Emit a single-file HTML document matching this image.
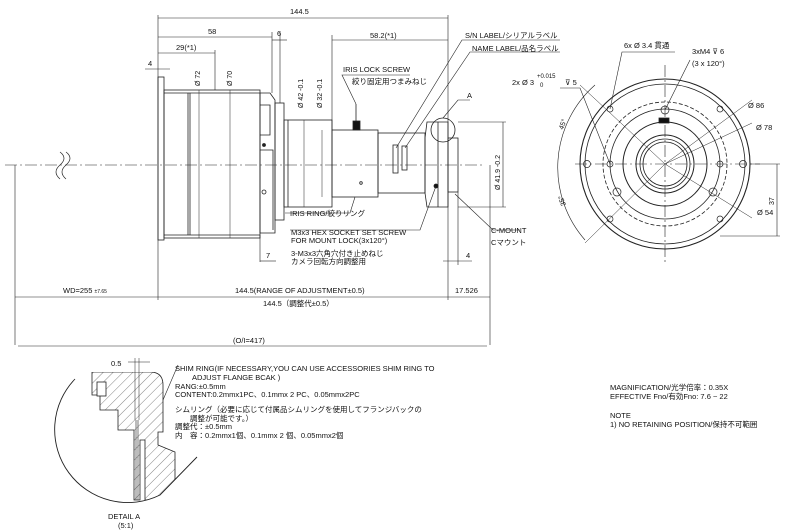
<!DOCTYPE html>
<html><head><meta charset="utf-8"><style>
html,body{margin:0;padding:0;background:#fff;width:800px;height:531px;overflow:hidden}
svg{display:block}
text{font-family:"Liberation Sans","Noto Sans CJK JP",sans-serif;fill:#111}
</style></head><body>
<svg width="800" height="531" viewBox="0 0 800 531" xmlns="http://www.w3.org/2000/svg">
<defs>
<pattern id="h" width="7" height="7" patternUnits="userSpaceOnUse" patternTransform="rotate(45)">
<line x1="0" y1="0" x2="0" y2="7" stroke="#333" stroke-width="0.6"/>
</pattern>
<clipPath id="dc"><path d="M75 379 A73 73 0 0 0 160 495 L197 457 L178 372 L75 372 Z"/></clipPath>
</defs>
<g stroke="#222" stroke-width="0.8" fill="none">
<line x1="5" y1="165" x2="485" y2="165" stroke-dasharray="12,3,2,3" stroke-width="0.6"/>
<path d="M60 152 q8 6 0 13 q-8 7 0 14 M66 152 q8 6 0 13 q-8 7 0 14" stroke-width="0.7"/>
<rect x="158" y="77" width="6" height="163"/>
<rect x="164" y="90" width="96" height="148"/>
<line x1="188" y1="93" x2="188" y2="235"/>
<line x1="190" y1="93" x2="190" y2="235"/>
<line x1="164" y1="93" x2="260" y2="93"/>
<line x1="164" y1="235" x2="260" y2="235"/>
<path d="M260 93 H270 L275 100 V233 H260 Z"/>
<path d="M260 105 H270 V135 H260 M260 150 H273 V230"/>
<circle cx="264" cy="145" r="1.5" fill="#222"/>
<circle cx="264" cy="192" r="2"/>
<rect x="275" y="103" width="9" height="117"/>
<rect x="284" y="120" width="48" height="87"/>
<line x1="288" y1="120" x2="288" y2="207"/>
<rect x="332" y="130" width="46" height="67"/>
<rect x="353" y="121" width="7" height="9" fill="#111"/>
<line x1="356" y1="104" x2="356" y2="121"/>
<circle cx="361" cy="183" r="1.3"/>
<rect x="378" y="133" width="47" height="60"/>
<rect x="393" y="145" width="5" height="28"/>
<rect x="402" y="146" width="5" height="24"/>
<path d="M425 138 L427 122 H448 V207 H427 L425 193 Z"/>
<line x1="438" y1="122" x2="438" y2="207"/>
<circle cx="436" cy="186" r="2" fill="#111"/>
<rect x="448" y="138" width="10" height="54"/>
<circle cx="443" cy="130" r="12"/>
<line x1="158" y1="15" x2="158" y2="300" stroke-width="0.6"/>
<line x1="448" y1="15" x2="448" y2="300" stroke-width="0.6"/>
<line x1="490" y1="165" x2="490" y2="300" stroke-width="0.6"/>
<line x1="15" y1="165" x2="15" y2="345" stroke-width="0.6"/>
<line x1="490" y1="300" x2="490" y2="345" stroke-width="0.6"/>
<line x1="272" y1="32" x2="272" y2="93" stroke-width="0.6"/>
<line x1="280" y1="32" x2="280" y2="103" stroke-width="0.6"/>
<line x1="332" y1="35" x2="332" y2="130" stroke-width="0.6"/>
<line x1="215" y1="50" x2="215" y2="90" stroke-width="0.6"/>
<line x1="458" y1="192" x2="458" y2="265" stroke-width="0.6"/>
<line x1="260" y1="235" x2="260" y2="262" stroke-width="0.6"/>
<line x1="458" y1="122" x2="506" y2="122" stroke-width="0.6"/>
<line x1="458" y1="207" x2="506" y2="207" stroke-width="0.6"/>
<line x1="503" y1="122" x2="503" y2="207" stroke-width="0.6"/>
<line x1="199" y1="90" x2="199" y2="238" stroke-width="0.5"/>
<line x1="230" y1="90" x2="230" y2="238" stroke-width="0.5"/>
<line x1="304" y1="120" x2="304" y2="207" stroke-width="0.5"/>
<line x1="322" y1="130" x2="322" y2="197" stroke-width="0.5"/>
<line x1="158" y1="18" x2="448" y2="18" stroke-width="0.6"/>
<line x1="158" y1="37" x2="272" y2="37" stroke-width="0.6"/>
<line x1="272" y1="40" x2="287" y2="40" stroke-width="0.6"/>
<line x1="332" y1="40" x2="448" y2="40" stroke-width="0.6"/>
<line x1="158" y1="53" x2="215" y2="53" stroke-width="0.6"/>
<line x1="145" y1="69" x2="170" y2="69" stroke-width="0.6"/>
<line x1="15" y1="297" x2="490" y2="297" stroke-width="0.6"/>
<line x1="18" y1="346" x2="487" y2="346" stroke-width="0.6"/>
<line x1="260" y1="261" x2="276" y2="261" stroke-width="0.6"/>
<line x1="443" y1="261" x2="472" y2="261" stroke-width="0.6"/>
<path d="M356 104 L342 75 H410" stroke-width="0.6"/>
<path d="M396 148 L462 40 H560" stroke-width="0.6"/>
<path d="M405 148 L470 52 H560" stroke-width="0.6"/>
<path d="M443 118 L458 100 H470" stroke-width="0.6"/>
<path d="M455 194 L493 230 H520" stroke-width="0.6"/>
<path d="M436 186 L420 230 H290" stroke-width="0.6"/>
<path d="M355 197 L350 213 H285" stroke-width="0.6"/>
<circle cx="665" cy="164" r="85" stroke-width="1.1"/>
<circle cx="665" cy="164" r="80"/>
<circle cx="665" cy="164" r="62" stroke-dasharray="4,2"/>
<circle cx="665" cy="164" r="55"/>
<circle cx="665" cy="164" r="42" stroke-width="1"/>
<circle cx="665" cy="164" r="29" stroke-width="1"/>
<circle cx="665" cy="164" r="25"/>
<circle cx="665" cy="164" r="22"/>
<line x1="575" y1="164" x2="760" y2="164" stroke-dasharray="12,3,2,3" stroke-width="0.6"/>
<line x1="665" y1="65" x2="665" y2="262" stroke-dasharray="12,3,2,3" stroke-width="0.6"/>
<g stroke-width="0.7">
<circle cx="587" cy="164" r="3.5"/><circle cx="743" cy="164" r="3.5"/>
<circle cx="610" cy="164" r="3"/><circle cx="720" cy="164" r="3"/>
<circle cx="610" cy="109" r="3"/><circle cx="720" cy="109" r="3"/>
<circle cx="610" cy="219" r="3"/><circle cx="720" cy="219" r="3"/>
<circle cx="665" cy="110" r="4"/><circle cx="617" cy="192" r="4"/><circle cx="713" cy="192" r="4"/>
</g>
<rect x="659" y="118" width="10" height="5" fill="#111"/>
<path d="M595 85 A110 110 0 0 0 585 240" stroke-width="0.6"/>
<line x1="665" y1="164" x2="580" y2="85" stroke-width="0.5"/>
<line x1="665" y1="164" x2="585" y2="243" stroke-width="0.5"/>
<line x1="750" y1="164" x2="780" y2="164" stroke-width="0.6"/>
<line x1="720" y1="236" x2="780" y2="236" stroke-width="0.6"/>
<line x1="777" y1="164" x2="777" y2="236" stroke-width="0.6"/>
<path d="M665 164 L752 100 M665 164 L752 123 M665 164 L752 218" stroke-width="0.5"/>
<path d="M610 109 L622 52 H675 M665 110 L690 60 M610 164 L580 88 H560" stroke-width="0.6"/>
<!-- detail A -->
<path d="M75 379 A73 73 0 0 0 160 495 L197 457" stroke-width="0.9"/>
<g clip-path="url(#dc)">
<path d="M92 372 H150 Q163 372 163 385 V432 H158 V445 L175 452 V500 H145 V440 H140 V500 H134 V430 H118 V410 H100 V395 H92 Z" fill="url(#h)" stroke-width="0.8"/>
<rect x="97" y="382" width="9" height="14" fill="#fff"/>
<path d="M136 420 V500 M138 420 V500" stroke-width="0.6"/>
</g>
<line x1="128" y1="362" x2="150" y2="362" stroke-width="0.6"/>
<line x1="135" y1="358" x2="135" y2="420" stroke-width="0.5"/>
<line x1="139" y1="358" x2="139" y2="420" stroke-width="0.5"/>
<line x1="163" y1="400" x2="178" y2="365" stroke-width="0.6"/>
</g>
<g font-size="7.5">
<text x="290" y="14">144.5</text>
<text x="208" y="34">58</text>
<text x="277" y="36">6</text>
<text x="370" y="38">58.2(*1)</text>
<text x="176" y="50">29(*1)</text>
<text x="148" y="66">4</text>
<text x="343" y="72">IRIS LOCK SCREW</text>
<text x="352" y="84">絞り固定用つまみねじ</text>
<text x="465" y="38">S/N LABEL/シリアルラベル</text>
<text x="472" y="51">NAME LABEL/品名ラベル</text>
<text x="467" y="98">A</text>
<text x="290" y="216">IRIS RING/絞りリング</text>
<text x="291" y="235">M3x3 HEX SOCKET SET SCREW</text>
<text x="291" y="243">FOR MOUNT LOCK(3x120°)</text>
<text x="291" y="256">3-M3x3六角穴付き止めねじ</text>
<text x="291" y="264">カメラ回転方向調整用</text>
<text x="266" y="258">7</text>
<text x="466" y="258">4</text>
<text x="491" y="233">C-MOUNT</text>
<text x="491" y="245">Cマウント</text>
<text x="63" y="293">WD=255 <tspan font-size="5">±7.65</tspan></text>
<text x="235" y="293">144.5(RANGE OF ADJUSTMENT±0.5)</text>
<text x="455" y="293">17.526</text>
<text x="263" y="306">144.5（調整代±0.5）</text>
<text x="233" y="343">(O/I=417)</text>
<text x="624" y="48">6x Ø 3.4 貫通</text>
<text x="692" y="54">3xM4 ⊽ 6</text>
<text x="692" y="66">(3 x 120°)</text>
<text x="512" y="85">2x Ø 3</text>
<text x="537" y="78" font-size="6">+0.015</text>
<text x="540" y="87" font-size="6">0</text>
<text x="565" y="85">⊽ 5</text>
<text x="748" y="108">Ø 86</text>
<text x="756" y="130">Ø 78</text>
<text x="757" y="215">Ø 54</text>
<text x="111" y="366">0.5</text>
<text x="175" y="371">SHIM RING(IF NECESSARY,YOU CAN USE  ACCESSORIES SHIM RING TO</text>
<text x="192" y="380">ADJUST FLANGE BCAK  )</text>
<text x="175" y="389">RANG:±0.5mm</text>
<text x="175" y="397">CONTENT:0.2mmx1PC、0.1mmx 2 PC、0.05mmx2PC</text>
<text x="175" y="412">シムリング（必要に応じて付属品シムリングを使用してフランジバックの</text>
<text x="190" y="421">調整が可能です。）</text>
<text x="175" y="429">調整代：±0.5mm</text>
<text x="175" y="438">内　容：0.2mmx1個、0.1mmx 2 個、0.05mmx2個</text>
<text x="108" y="519">DETAIL A</text>
<text x="118" y="528">(5:1)</text>
<text x="610" y="390">MAGNIFICATION/光学倍率：0.35X</text>
<text x="610" y="399">EFFECTIVE Fno/有効Fno: 7.6 ~ 22</text>
<text x="610" y="418">NOTE</text>
<text x="610" y="427">1) NO RETAINING POSITION/保持不可範囲</text>
</g>
<g font-size="7">
<text transform="translate(200,86) rotate(-90)">Ø 72</text>
<text transform="translate(232,86) rotate(-90)">Ø 70</text>
<text transform="translate(303,108) rotate(-90)">Ø 42 -0.1</text>
<text transform="translate(322,108) rotate(-90)">Ø 32 -0.1</text>
<text transform="translate(500,190) rotate(-90)">Ø 41.9 -0.2</text>
<text transform="translate(774,205) rotate(-90)">37</text>
<text transform="translate(563,130) rotate(-70)">45°</text>
<text transform="translate(566,205) rotate(-110)">35°</text>
</g>
</svg>
</body></html>
